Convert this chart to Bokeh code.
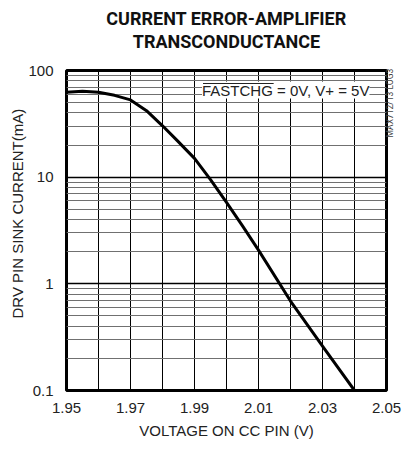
import numpy as np
from bokeh.plotting import figure
from bokeh.models import (Range1d, FixedTicker, NumeralTickFormatter, Grid,
                          Label, Title, LogAxis, CustomJSTickFormatter)
from bokeh.embed import file_html
from bokeh.resources import INLINE

# ---- data ----
voltage = [1.950, 1.955, 1.960, 1.965, 1.970, 1.975, 1.980, 1.985, 1.990,
           1.995, 2.000, 2.005, 2.010, 2.020, 2.030, 2.040]
sink_current_ma = [62.5, 64.0, 62.5, 58.5, 53.0, 42.0, 30.3, 21.4, 15.0,
                   9.5, 5.8, 3.5, 2.07, 0.69, 0.26, 0.10]

x_tick_values = [1.95, 1.97, 1.99, 2.01, 2.03, 2.05]
x_grid_values = [1.96, 1.97, 1.98, 1.99, 2.00, 2.01, 2.02, 2.03, 2.04]
y_tick_values = [0.1, 1, 10, 100]
y_minor_values = [m * 10.0 ** e for e in (-1, 0, 1) for m in range(2, 10)]

title_lines = ["CURRENT ERROR-AMPLIFIER", "TRANSCONDUCTANCE"]
x_label = "VOLTAGE ON CC PIN (V)"
y_label = "DRV PIN SINK CURRENT(mA)"
cond_text = "FASTCHG = 0V, V+ = 5V"
side_code = "MAX712/13 LOG3"
side_code_anchor = [23.6]   # y value where the upward-reading code sits

FONT = "Liberation Sans"
TFONT = "Roboto"
FW, FH = 320, 320
x0, x1 = 1.95, 2.05
px_x = (x1 - x0) / FW            # data per pixel (x)
px_y = 3.0 / FH                   # decades per pixel (y)


def xd(dx_px):
    return x0 + dx_px * px_x


def yd(dy_px):
    return 10 ** (2 - dy_px * px_y)


p = figure(frame_width=FW, frame_height=FH,
           x_range=Range1d(x0, x1), y_range=Range1d(0.1, 100),
           y_axis_type="log", output_backend="svg", toolbar_location=None,
           min_border_left=66, min_border_right=10,
           min_border_top=70, min_border_bottom=51)
p.background_fill_color = "white"
p.border_fill_color = "white"
p.outline_line_color = "black"
p.outline_line_width = 3

# spacer between frame and title, then the two title lines (inner first)
p.add_layout(Title(text=" ", text_font_size="1px", standoff=16), "above")
p.add_layout(Title(text=title_lines[1], align="center",
                   text_font=TFONT, text_font_style="bold",
                   text_font_size="18px", text_color="#111111",
                   standoff=0), "above")
p.add_layout(Title(text=title_lines[0], align="center",
                   text_font=TFONT, text_font_style="bold",
                   text_font_size="18px", text_color="#111111",
                   standoff=0), "above")

# axes
for ax in (p.xaxis, p.yaxis):
    ax.axis_line_color = None
    ax.major_tick_line_color = None
    ax.minor_tick_line_color = None
    ax.major_tick_out = 0
    ax.minor_tick_out = 0
    ax.major_label_text_font = FONT
    ax.major_label_text_font_size = "15px"
    ax.major_label_text_color = "#222222"
p.xaxis.ticker = FixedTicker(ticks=x_tick_values)
p.xaxis.formatter = NumeralTickFormatter(format="0.00")
p.xaxis.major_label_standoff = 12
p.xaxis.axis_label = x_label
p.xaxis.axis_label_text_font = FONT
p.xaxis.axis_label_text_font_size = "15px"
p.xaxis.axis_label_text_font_style = "normal"
p.xaxis.axis_label_text_color = "#222222"
p.xaxis.axis_label_standoff = 6
p.yaxis.ticker = FixedTicker(ticks=y_tick_values)
p.yaxis.formatter = NumeralTickFormatter(format="0.[0]")
p.yaxis.major_label_standoff = 13

# y label as a left-side title, shifted up like the reference
p.add_layout(Title(text=y_label, align="left", offset=72,
                   text_font=FONT, text_font_style="normal",
                   text_font_size="15px", text_color="#222222",
                   standoff=0), "left")

# small code on the right, reading upwards
side_axis = LogAxis(ticker=FixedTicker(ticks=side_code_anchor),
                    formatter=CustomJSTickFormatter(args=dict(t=side_code),
                                                    code="return t"))
side_axis.axis_line_color = None
side_axis.major_tick_line_color = None
side_axis.minor_tick_line_color = None
side_axis.major_tick_out = 0
side_axis.minor_tick_out = 0
side_axis.major_label_orientation = np.pi / 2
side_axis.major_label_standoff = 4
side_axis.major_label_text_font = "Roboto"
side_axis.major_label_text_font_size = "8.5px"
side_axis.major_label_text_color = "#444444"
p.add_layout(side_axis, "right")

# grids
p.xgrid.ticker = FixedTicker(ticks=x_grid_values)
p.xgrid.grid_line_color = "black"
p.xgrid.grid_line_width = 1
p.ygrid.ticker = FixedTicker(ticks=y_tick_values)
p.ygrid.grid_line_color = "black"
p.ygrid.grid_line_width = 1.6
p.add_layout(Grid(dimension=1, ticker=FixedTicker(ticks=y_minor_values),
                  grid_line_color="#707070", grid_line_width=1))

# curve
p.line(voltage, sink_current_ma, line_color="black", line_width=3,
       line_join="round", line_cap="round")

# condition text with white box and overline
cond_x, cond_y = xd(135.5), yd(19.6)
p.add_layout(Label(x=cond_x, y=cond_y, text=cond_text, text_font=FONT,
                   text_font_size="15px", text_baseline="middle",
                   text_align="left", text_color="#222222",
                   background_fill_color="white"))
over_w = 4.778 * 15  # width of the overlined word at 15px
p.segment(x0=[cond_x + 1 * px_x], y0=[yd(13.0)],
          x1=[cond_x + over_w * px_x], y1=[yd(13.0)],
          line_color="#222222", line_width=1, level="overlay")

open("out.html", "w").write(file_html(p, INLINE))
